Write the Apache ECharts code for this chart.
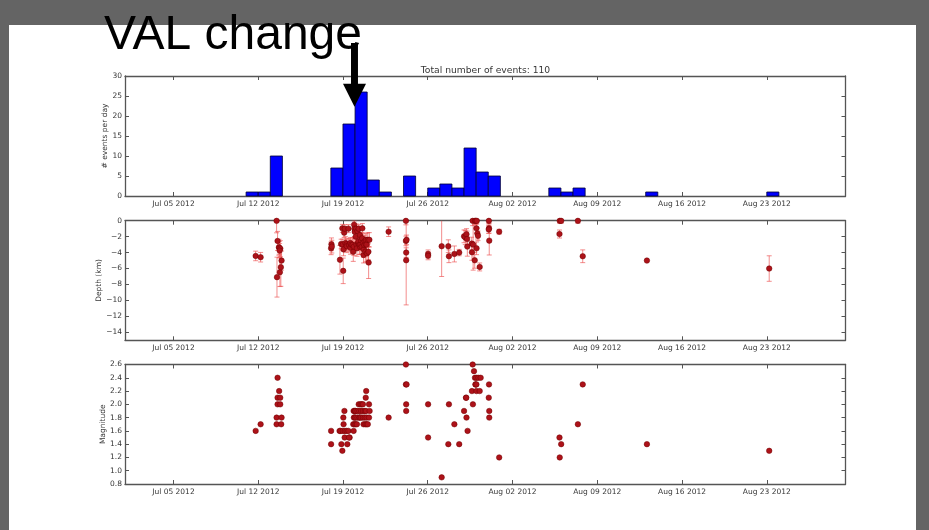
<!DOCTYPE html>
<html>
<head>
<meta charset="utf-8">
<script src="https://cdn.jsdelivr.net/npm/echarts@6/dist/echarts.min.js"></script>
<style>
  html, body { margin: 0; padding: 0; background: #646464; }
  #sheet { position: absolute; left: 9px; top: 25px; width: 907px; height: 505px; background: #ffffff; }
  #chart { position: absolute; left: 0; top: 0; width: 929px; height: 530px; }
</style>
</head>
<body>
<div id="sheet"></div>
<div id="chart"></div>
<script>
// Daily event counts (histogram bins, one day wide)
const binDates = ['2012-07-11', '2012-07-12', '2012-07-13', '2012-07-18', '2012-07-19',
  '2012-07-20', '2012-07-21', '2012-07-22', '2012-07-24', '2012-07-26', '2012-07-27',
  '2012-07-28', '2012-07-29', '2012-07-30', '2012-07-31', '2012-08-05', '2012-08-06',
  '2012-08-07', '2012-08-13', '2012-08-23'];
const binCounts = [1, 1, 10, 7, 18, 26, 4, 1, 5, 2, 3, 2, 12, 6, 5, 2, 1, 2, 1, 1];

// Hypocentre depths: [day of July (Aug 1 = 32), depth km, depth error km]
const depthEvents = [
  [11.79, -4.42, 0.6], [12.2, -4.58, 0.6],
  [13.52, -0.02, 1.5], [13.55, -7.08, 2.5], [13.6, -2.54, 1.2], [13.71, -3.33, 1.0], [13.74, -3.4, 0.8],
  [13.82, -3.5, 1.0], [13.77, -3.75, 0.9], [13.79, -6.46, 1.8], [13.87, -5.83, 2.4], [13.93, -5.0, 1.2],
  [18.02, -3.46, 0.8], [18.05, -2.96, 0.8], [18.08, -3.25, 0.8], [18.75, -4.9, 1.8], [18.85, -2.92, 0.6],
  [18.95, -0.96, 0.5], [18.98, -3.0, 0.7],
  [19.02, -6.29, 1.6], [19.05, -3.6, 0.8], [19.1, -1.5, 0.6], [19.15, -1.0, 0.5], [19.2, -2.8, 0.8],
  [19.3, -2.96, 0.7], [19.32, -3.2, 0.8], [19.45, -1.0, 0.5], [19.5, -3.04, 0.8], [19.6, -2.8, 0.7],
  [19.62, -3.4, 0.8], [19.7, -3.0, 0.6], [19.8, -3.04, 0.9], [19.85, -3.9, 1.2], [19.9, -3.25, 1.1],
  [19.92, -0.5, 0.5], [19.95, -1.0, 1.0], [19.97, -1.4, 0.8],
  [20.05, -2.0, 0.6], [20.1, -1.0, 0.6], [20.12, -3.0, 0.7], [20.15, -3.46, 1.0], [20.2, -1.3, 0.6],
  [20.25, -2.8, 0.8], [20.28, -2.6, 0.6], [20.3, -1.0, 0.5], [20.35, -3.04, 1.2], [20.4, -1.8, 0.7],
  [20.42, -3.3, 0.9], [20.45, -2.96, 0.8], [20.5, -2.46, 0.7], [20.55, -3.25, 1.0], [20.58, -2.2, 0.7],
  [20.6, -0.96, 0.6], [20.65, -2.83, 0.9], [20.7, -4.3, 1.0], [20.72, -3.6, 1.0], [20.75, -3.04, 0.8],
  [20.8, -2.6, 0.8], [20.85, -3.9, 1.3], [20.88, -2.96, 0.8], [20.9, -2.4, 0.8], [20.95, -3.0, 0.9],
  [20.98, -4.1, 1.0],
  [21.05, -2.4, 0.9], [21.1, -3.9, 1.0], [21.12, -5.25, 2.0], [21.18, -2.4, 0.9],
  [22.77, -1.38, 0.6],
  [24.2, -0.02, 0.5], [24.2, -2.54, 0.6], [24.25, -2.4, 0.6], [24.22, -4.0, 0.6], [24.22, -4.96, 5.6],
  [26.03, -4.17, 0.5], [26.03, -4.4, 0.5],
  [27.15, -3.2, 3.8], [27.7, -3.2, 0.8], [27.75, -4.46, 0.8],
  [28.2, -4.17, 1.0], [28.6, -4.0, 0.4],
  [29.0, -1.96, 0.8], [29.1, -2.1, 0.9], [29.2, -1.7, 0.7], [29.25, -2.3, 1.0], [29.27, -3.25, 1.2],
  [29.63, -2.87, 0.8], [29.71, -0.02, 0.6], [29.65, -3.96, 1.0], [29.75, -3.0, 3.2], [29.88, -4.96, 1.0],
  [29.9, -0.02, 0.5], [29.96, -0.02, 0.4],
  [30.02, -0.96, 0.6], [30.1, -1.6, 0.7], [30.03, -3.46, 0.8], [30.29, -5.8, 0.5], [30.15, -1.9, 0.6],
  [30.05, -0.02, 0.4],
  [31.05, -0.02, 0.4], [31.06, -0.96, 0.6], [31.08, -2.5, 1.8], [31.04, -1.1, 0.5], [31.9, -1.38, 0.3],
  [36.88, -1.67, 0.5], [36.9, -0.02, 0.3], [37.02, -0.02, 0.3],
  [38.4, -0.02, 0.3], [38.8, -4.46, 0.8],
  [44.1, -5.0, 0], [54.2, -6.0, 1.6]
];

// Local magnitudes: [day of July (Aug 1 = 32), magnitude]
const magnitudeEvents = [
  [11.79, 1.6], [12.2, 1.7],
  [13.52, 1.8], [13.52, 1.7], [13.6, 2.4], [13.6, 2.1], [13.6, 2.0], [13.73, 2.2], [13.82, 2.1],
  [13.82, 2.0], [13.93, 1.8], [13.9, 1.7],
  [18.02, 1.6], [18.02, 1.4], [18.72, 1.6], [18.8, 1.6], [18.87, 1.4], [18.95, 1.3], [18.98, 1.6],
  [19.03, 1.8], [19.05, 1.7], [19.12, 1.9], [19.15, 1.6], [19.14, 1.5], [19.3, 1.6], [19.36, 1.4],
  [19.45, 1.6], [19.55, 1.5], [19.5, 1.5], [19.88, 1.6], [19.85, 1.7], [19.9, 1.8], [19.88, 1.9],
  [19.95, 1.7], [19.97, 1.9], [19.97, 1.8], [19.99, 1.9],
  [20.05, 1.9], [20.2, 1.9], [20.35, 1.9], [20.5, 1.9], [20.65, 1.9], [20.8, 1.9], [20.9, 1.9],
  [20.05, 1.8], [20.2, 1.8], [20.35, 1.8], [20.4, 1.8], [20.5, 1.8], [20.65, 1.8], [20.8, 1.8], [20.95, 1.8],
  [20.05, 1.7], [20.15, 1.7], [20.7, 1.7], [20.85, 1.7], [20.95, 1.7],
  [20.3, 2.0], [20.45, 2.0], [20.55, 2.0], [20.65, 2.0], [20.88, 2.1], [20.92, 2.2],
  [21.15, 2.0], [21.2, 1.9], [21.15, 1.8], [21.05, 1.7],
  [22.77, 1.8],
  [24.2, 2.6], [24.2, 2.3], [24.25, 2.3], [24.22, 2.0], [24.22, 1.9],
  [26.03, 2.0], [26.03, 1.5],
  [27.15, 0.9], [27.7, 1.4], [27.75, 2.0],
  [28.2, 1.7], [28.6, 1.4],
  [29.0, 1.9], [29.16, 2.1], [29.18, 2.1], [29.2, 1.8], [29.29, 1.6], [29.65, 2.2], [29.73, 2.0],
  [29.71, 2.6], [29.82, 2.5], [29.9, 2.4], [29.96, 2.3], [29.94, 2.3],
  [30.02, 2.4], [30.18, 2.4], [30.37, 2.4], [30.02, 2.3], [30.02, 2.2], [30.29, 2.2],
  [31.06, 2.3], [31.04, 2.1], [31.08, 1.9], [31.08, 1.8], [31.9, 1.2],
  [36.88, 1.5], [36.9, 1.2], [37.02, 1.4],
  [38.4, 1.7], [38.8, 2.3],
  [44.1, 1.4], [54.2, 1.3]
];

// Weekly date ticks (day of July) and ticks for the value axes
const xTickDays = [5, 12, 19, 26, 33, 40, 47, 54];
const countTicks = [0, 5, 10, 15, 20, 25, 30];
const depthTicks = [0, -2, -4, -6, -8, -10, -12, -14];
const magTicks = [0.8, 1.0, 1.2, 1.4, 1.6, 1.8, 2.0, 2.2, 2.4, 2.6];
const titleText = 'Total number of events: ' + binCounts.reduce((a, b) => a + b, 0);

const DAY = 86400000;
const JUL0 = Date.UTC(2012, 5, 30);           // day 1 -> 1 Jul 2012 00:00 UTC
const t = d => JUL0 + d * DAY;
const MONTHS = ['Jan','Feb','Mar','Apr','May','Jun','Jul','Aug','Sep','Oct','Nov','Dec'];
const fmtDate = v => { const d = new Date(v); return MONTHS[d.getUTCMonth()] + ' ' +
  String(d.getUTCDate()).padStart(2, '0') + ' ' + d.getUTCFullYear(); };
const xTicks = xTickDays.map(t);

const FONT = 'DejaVu Sans';
const AX = '#555555';
const TXT = '#363636';

const grids = [
  { left: 125, right: 83.5, top: 76, height: 120 },
  { left: 125, right: 83.5, top: 220.7, height: 119.6 },
  { left: 125, right: 83.5, top: 364.5, height: 119.5 }
];

// Dates are plotted on a linear millisecond axis so ticks can sit on whole weeks
function xAxesFor(gi) {
  const base = {
    type: 'value', gridIndex: gi, min: t(1), max: t(60.5), scale: true,
    axisLine: { show: true, onZero: false, lineStyle: { color: AX, width: 1.3 } },
    splitLine: { show: false }
  };
  return [
    Object.assign({}, base, {
      position: 'bottom',
      axisTick: { show: true, inside: true, length: 4, customValues: xTicks, lineStyle: { color: AX } },
      axisLabel: { show: true, customValues: xTicks, formatter: fmtDate, fontFamily: FONT,
        fontSize: 7.5, color: TXT, margin: 4, hideOverlap: false }
    }),
    Object.assign({}, base, {
      position: 'top',
      axisTick: { show: true, inside: true, length: 4, customValues: xTicks, lineStyle: { color: AX } },
      axisLabel: { show: false }
    })
  ];
}

function yAxesFor(gi, min, max, ticks, name, nameGap, fmt) {
  const base = {
    type: 'value', gridIndex: gi, min: min, max: max,
    axisLine: { show: true, onZero: false, lineStyle: { color: AX, width: 1.3 } },
    splitLine: { show: false }
  };
  return [
    Object.assign({}, base, {
      position: 'left', name: name, nameLocation: 'middle', nameGap: nameGap, nameRotate: 90,
      nameMoveOverlap: false,
      nameTextStyle: { fontFamily: FONT, fontSize: 7.5, color: TXT },
      axisTick: { show: true, inside: true, length: 4, customValues: ticks, lineStyle: { color: AX } },
      axisLabel: { show: true, customValues: ticks, formatter: fmt, fontFamily: FONT,
        fontSize: 7.5, color: TXT, margin: 3 }
    }),
    Object.assign({}, base, {
      position: 'right',
      axisTick: { show: true, inside: true, length: 4, customValues: ticks, lineStyle: { color: AX } },
      axisLabel: { show: false }
    })
  ];
}

const minus = v => String(v).replace('-', '\u2212');

const chart = echarts.init(document.getElementById('chart'), null, { renderer: 'canvas' });

const option = {
  animation: false,
  backgroundColor: 'transparent',
  title: {
    text: titleText, left: 480.5, top: 61.5, textAlign: 'center',
    textStyle: { fontFamily: FONT, fontSize: 9.2, fontWeight: 'normal', color: TXT }
  },
  grid: grids,
  xAxis: [].concat(xAxesFor(0), xAxesFor(1), xAxesFor(2)),
  yAxis: [].concat(
    yAxesFor(0, 0, 30, countTicks, '# events per day', 16, v => String(v)),
    yAxesFor(1, -15, 0, depthTicks, 'Depth (km)', 22, minus),
    yAxesFor(2, 0.8, 2.6, magTicks, 'Magnitude', 18, v => v.toFixed(1))
  ),
  series: [
    {
      type: 'custom', name: 'events per day', xAxisIndex: 0, yAxisIndex: 0,
      data: binDates.map((d, i) => [Date.parse(d + 'T00:00:00Z'), binCounts[i]]),
      encode: { x: 0, y: 1 },
      renderItem: function (params, api) {
        const start = api.value(0), n = api.value(1);
        const p0 = api.coord([start, 0]);
        const p1 = api.coord([start + DAY, n]);
        return {
          type: 'rect',
          shape: { x: p0[0], y: p1[1], width: p1[0] - p0[0], height: p0[1] - p1[1] },
          style: { fill: '#0000ff', stroke: '#000033', lineWidth: 0.8 }
        };
      }
    },
    {
      type: 'custom', name: 'depth error', xAxisIndex: 2, yAxisIndex: 2, clip: true,
      data: depthEvents.map(e => [t(e[0]), e[1], e[2]]),
      encode: { x: 0, y: 1 },
      renderItem: function (params, api) {
        const x = api.value(0), y = api.value(1), err = api.value(2);
        if (!(err > 0)) return null;
        const a = api.coord([x, y + err]);
        const b = api.coord([x, y - err]);
        const c = 2.5;
        const st = { stroke: 'rgba(236,80,80,0.65)', lineWidth: 1 };
        return {
          type: 'group',
          children: [
            { type: 'line', shape: { x1: a[0], y1: a[1], x2: b[0], y2: b[1] }, style: st },
            { type: 'line', shape: { x1: a[0] - c, y1: a[1], x2: a[0] + c, y2: a[1] }, style: st },
            { type: 'line', shape: { x1: b[0] - c, y1: b[1], x2: b[0] + c, y2: b[1] }, style: st }
          ]
        };
      }
    },
    {
      type: 'scatter', name: 'depth', xAxisIndex: 2, yAxisIndex: 2,
      data: depthEvents.map(e => [t(e[0]), e[1]]),
      symbolSize: 5.5,
      itemStyle: { color: '#ad1219', borderColor: '#700000', borderWidth: 0.5, opacity: 1 }
    },
    {
      type: 'scatter', name: 'magnitude', xAxisIndex: 4, yAxisIndex: 4,
      data: magnitudeEvents.map(e => [t(e[0]), e[1]]),
      symbolSize: 5.5,
      itemStyle: { color: '#ad1219', borderColor: '#700000', borderWidth: 0.5, opacity: 1 }
    }
  ]
};

chart.setOption(option);

// "VAL change" annotation with an arrow pointing at the peak day
const tip = chart.convertToPixel({ xAxisIndex: 0, yAxisIndex: 0 }, [t(19.95), 22.3]);
const tx = tip[0], ty = tip[1];
chart.setOption({
  graphic: [
    {
      type: 'text', left: 104, top: 12, z: 100,
      style: { text: 'VAL change', fill: '#000000', font: '48px "Liberation Sans", Arial, sans-serif' }
    },
    {
      type: 'rect', z: 100,
      shape: { x: tx - 3.5, y: 43, width: 7, height: ty - 23 - 43 + 1 },
      style: { fill: '#000000' }
    },
    {
      type: 'polygon', z: 100,
      shape: { points: [[tx - 11.5, ty - 23], [tx + 11.5, ty - 23], [tx, ty]] },
      style: { fill: '#000000' }
    }
  ]
});
</script>
</body>
</html>
